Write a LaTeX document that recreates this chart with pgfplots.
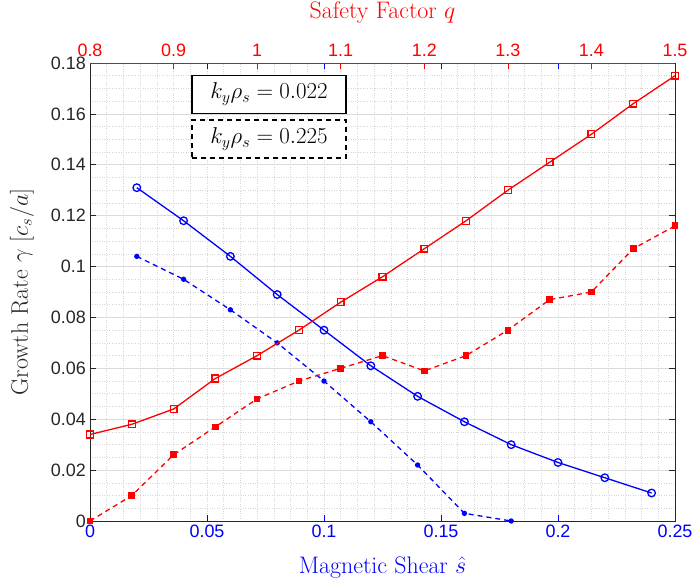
\RequirePackage{fix-cm}
\documentclass[border=0pt]{standalone}
\usepackage{fontspec}
\usepackage{pgfplots}
\pgfplotsset{compat=1.18}
\newfontfamily\helv{Liberation Sans}
\definecolor{mblue}{rgb}{0,0,1}
\definecolor{mred}{rgb}{1,0,0}
\definecolor{gridc}{gray}{0.86}
\definecolor{axc}{gray}{0.15}

\pgfplotstableread{
s      g
0.02   0.131
0.04   0.118
0.06   0.104
0.08   0.089
0.10   0.075
0.12   0.061
0.14   0.049
0.16   0.039
0.18   0.030
0.20   0.023
0.22   0.017
0.24   0.011
}\bluesolid

\pgfplotstableread{
s      g
0.02   0.104
0.04   0.095
0.06   0.083
0.08   0.070
0.10   0.055
0.12   0.039
0.14   0.022
0.16   0.003
0.18   0.000
}\bluedashed

\pgfplotstableread{
q      g
0.80   0.034
0.85   0.038
0.90   0.044
0.95   0.056
1.00   0.065
1.05   0.075
1.10   0.086
1.15   0.096
1.20   0.107
1.25   0.118
1.30   0.130
1.35   0.141
1.40   0.152
1.45   0.164
1.50   0.175
}\redsolid

\pgfplotstableread{
q      g
0.80   0.000
0.85   0.010
0.90   0.026
0.95   0.037
1.00   0.048
1.05   0.055
1.10   0.060
1.15   0.065
1.20   0.059
1.25   0.065
1.30   0.075
1.35   0.087
1.40   0.090
1.45   0.107
1.50   0.116
}\reddashed

\begin{document}
\begin{tikzpicture}
\pgfplotsset{set layers}
\begin{axis}[
  at={(0,0)}, anchor=south west, scale only axis,
  width=585bp, height=458bp,
  xmin=0, xmax=0.25, ymin=0, ymax=0.18,
  clip=false,
  xtick={0,0.05,0.1,0.15,0.2,0.25},
  xticklabels={0,0.05,0.1,0.15,0.2,0.25},
  ytick={0,0.02,0.04,0.06,0.08,0.1,0.12,0.14,0.16,0.18},
  yticklabels={0,0.02,0.04,0.06,0.08,0.1,0.12,0.14,0.16,0.18},
  ymajorgrids, yminorgrids, minor y tick num=3,
  major grid style={gridc, line width=0.6bp},
  minor grid style={gray!32, dotted, line width=0.6bp},
  minor tick length=0pt, major tick length=6bp, tick align=inside,
  x axis line style={mblue, line width=0.6bp},
  y axis line style={axc, line width=0.6bp},
  xtick style={mblue, line width=0.6bp},
  ytick style={axc, line width=0.6bp},
  x tick label style={mblue, font=\helv\fontsize{18}{20}\selectfont, inner sep=1bp, yshift=-3bp},
  y tick label style={axc, font=\helv\fontsize{18}{20}\selectfont, inner sep=1bp, xshift=-3bp},
  xlabel={Magnetic Shear $\hat{s}$},
  xlabel style={mblue, font=\fontsize{24}{28}\selectfont, inner sep=0pt, at={(rel axis cs:0.5,0)}, anchor=center, yshift=-47bp},
  ylabel={Growth Rate $\gamma$ $[c_s/a]$},
  ylabel style={axc, font=\fontsize{24}{28}\selectfont, inner sep=0pt, at={(rel axis cs:0,0.5)}, anchor=center, rotate=0, yshift=68bp},
]
\addplot[mblue, line width=1.3bp, mark=o, mark size=3.8bp, mark options={solid, fill=white}] table[x=s, y=g] {\bluesolid};
\addplot[mblue, line width=1.3bp, dash pattern=on 5bp off 4bp, mark=*, mark size=2bp, mark options={solid}] table[x=s, y=g] {\bluedashed};
\end{axis}
\begin{axis}[
  at={(0,0)}, anchor=south west, scale only axis,
  width=585bp, height=458bp,
  xmin=0.8, xmax=1.5, ymin=0, ymax=0.18,
  clip=false,
  axis x line*=top, axis y line=none,
  xtick={0.8,0.9,1,1.1,1.2,1.3,1.4,1.5},
  xticklabels={0.8,0.9,1,1.1,1.2,1.3,1.4,1.5},
  minor x tick num=4,
  xmajorgrids, xminorgrids,
  major grid style={gray!32, dotted, line width=0.6bp},
  minor grid style={gray!32, dotted, line width=0.6bp},
  minor tick length=0pt, major tick length=6bp, tick align=inside,
  x axis line style={mred, line width=0.6bp, -},
  xtick style={mred, line width=0.6bp},
  x tick label style={mred, font=\helv\fontsize{18}{20}\selectfont, inner sep=1bp, yshift=5bp},
  xlabel={Safety Factor $q$},
  xlabel style={mred, font=\fontsize{24}{28}\selectfont, inner sep=0pt, at={(rel axis cs:0.5,1)}, anchor=center, yshift=50bp},
]
\addplot[mred, line width=1.3bp, mark=square, mark size=3.4bp, mark options={solid, fill=white}] table[x=q, y=g] {\redsolid};
\addplot[mred, line width=1.3bp, dash pattern=on 5bp off 4bp, mark=square*, mark size=2.7bp, mark options={solid}] table[x=q, y=g] {\reddashed};
\node[draw=black, line width=1.2bp, fill=white, minimum width=154bp, minimum height=38bp, font=\fontsize{23}{27}\selectfont] at (rel axis cs:0.306,0.932) {$k_y\rho_s = 0.022$};
\node[draw=black, line width=1.2bp, dash pattern=on 5bp off 4bp, fill=white, minimum width=154bp, minimum height=38bp, font=\fontsize{23}{27}\selectfont] at (rel axis cs:0.306,0.834) {$k_y\rho_s = 0.225$};
\draw[axc, line width=0.6bp] (rel axis cs:1,0) -- (rel axis cs:1,1);
\end{axis}
\path (-90bp,-61bp) rectangle (606bp,521bp);
\end{tikzpicture}
\end{document}
